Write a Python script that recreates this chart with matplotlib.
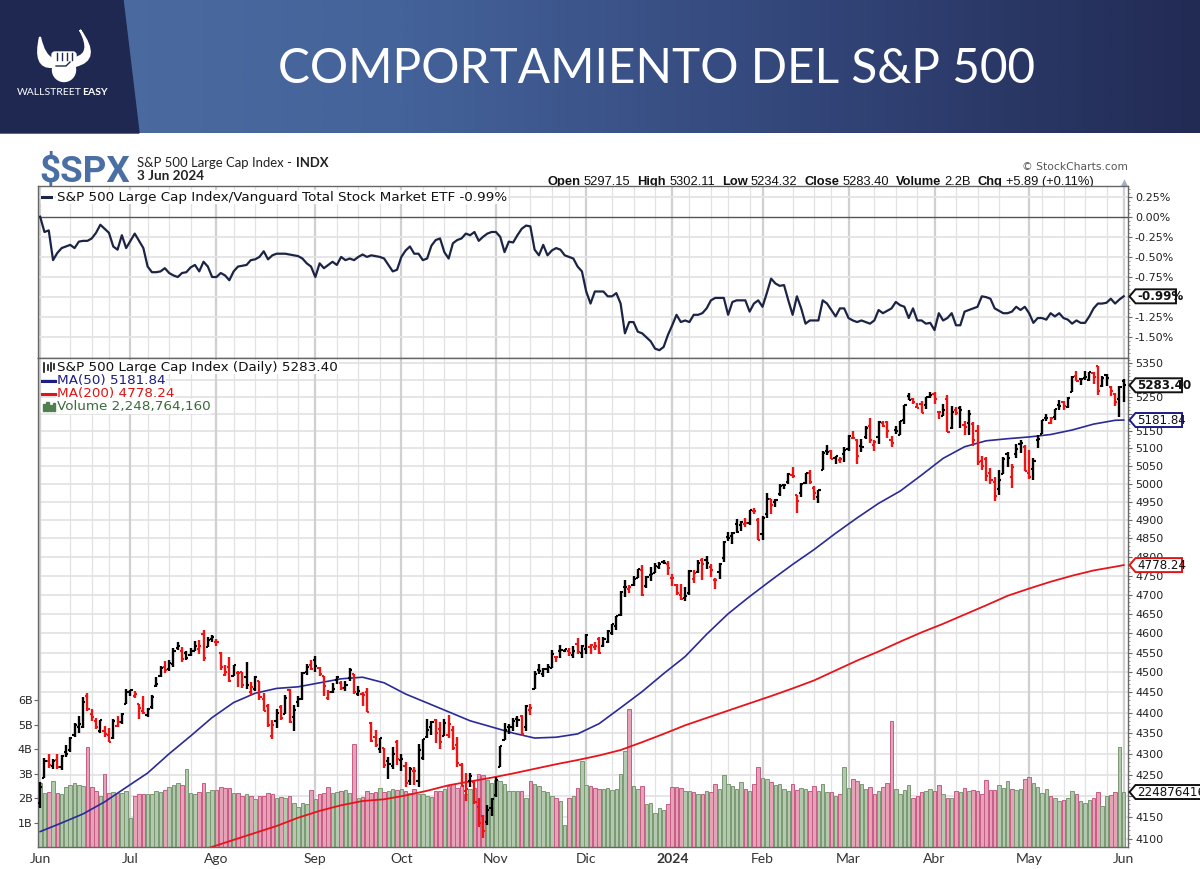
import numpy as np
import pandas as pd
import matplotlib
matplotlib.use("Agg")
import matplotlib.pyplot as plt
from matplotlib.patches import Polygon, PathPatch, Circle, FancyBboxPatch, Rectangle
from matplotlib.path import Path
from matplotlib.colors import LinearSegmentedColormap
from matplotlib.transforms import blended_transform_factory
from matplotlib.ticker import FixedLocator, FixedFormatter, NullFormatter

# ---------------- data ----------------
holidays = ["2023-06-19", "2023-07-04", "2023-09-04", "2023-11-23", "2023-12-25",
            "2024-01-01", "2024-01-15", "2024-02-19", "2024-03-29", "2024-05-27"]
month_labels = ["Jun", "Jul", "Ago", "Sep", "Oct", "Nov", "Dic", "2024", "Feb", "Mar", "Abr", "May", "Jun"]

opens = [
    4183,4241,4282,4271,4285,4268,4304,4308,4345,4366,4366,4440,4396,4380,4355,4354,4345,4338,4367,4378,4422,
    4450,4442,4422,4404,4394,4415,4467,4491,4514,4508,4521,4563,4554,4550,4543,4555,4559,4598,4565,4585,
    4578,4550,4494,4514,4492,4498,4501,4488,4450,4458,4478,4433,4416,4344,4380,4415,4397,4455,4389,4426,4433,4500,4518,
    4531,4510,4490,4435,4452,4481,4473,4462,4487,4497,4445,4445,4452,4375,4341,4311,4313,4283,4270,4328,
    4284,4270,4234,4259,4234,4290,4340,4366,4381,4360,4343,4346,4357,4322,4274,4211,4235,4233,4175,4152,4140,4172,
    4201,4268,4334,4365,4366,4384,4391,4365,4407,4458,4505,4497,4509,4511,4538,4553,4555,4555,4545,4571,4548,
    4559,4564,4564,4586,4568,4576,4600,4618,4646,4721,4714,4725,4743,4765,4724,4753,4758,4773,4786,4782,
    4745,4726,4698,4690,4703,4742,4760,4792,4791,4773,4739,4760,4797,4853,4856,4888,4886,4888,4892,4925,4899,
    4862,4916,4957,4950,4973,4996,5004,5026,4968,4976,5003,5031,4989,4964,5039,5093,5093,5074,5067,5085,
    5098,5131,5124,5108,5132,5164,5111,5134,5174,5175,5123,5154,5140,5181,5253,5243,5220,5229,5226,5248,
    5258,5204,5194,5244,5158,5211,5217,5167,5172,5171,5150,5064,5069,5032,5005,4987,5028,5084,5019,5085,5114,5103,
    5030,5041,5123,5142,5187,5172,5190,5225,5233,5221,5264,5310,5303,5305,5298,5319,5340,5282,5315,5278,5259,5243,
    5297.15]
highs = [
    4232,4290,4299,4288,4299,4298,4322,4340,4375,4391,4439,4449,4408,4387,4382,4367,4363,4384,4391,4398,4458,
    4456,4454,4422,4440,4412,4443,4488,4517,4528,4532,4562,4578,4565,4555,4563,4580,4582,4607,4590,4595,
    4585,4551,4519,4540,4519,4503,4502,4527,4476,4490,4478,4449,4421,4382,4408,4419,4443,4458,4418,4440,4500,4521,4532,
    4541,4514,4490,4457,4474,4491,4479,4479,4511,4497,4467,4451,4462,4376,4357,4338,4313,4292,4317,4333,
    4300,4281,4268,4268,4324,4336,4385,4379,4385,4377,4384,4393,4367,4340,4277,4255,4254,4236,4195,4156,4178,4194,
    4245,4319,4374,4372,4386,4392,4393,4418,4421,4503,4521,4511,4521,4557,4542,4569,4560,4561,4568,4587,4570,
    4599,4572,4578,4591,4590,4609,4623,4643,4709,4738,4725,4749,4769,4779,4749,4772,4785,4786,4793,4788,
    4755,4729,4727,4721,4764,4765,4791,4798,4803,4782,4744,4785,4842,4868,4867,4903,4898,4906,4929,4932,4906,
    4911,4975,4958,4958,5000,5000,5030,5048,4970,5003,5032,5039,4993,4983,5094,5111,5097,5080,5077,5105,
    5140,5149,5127,5128,5165,5189,5125,5179,5180,5179,5137,5165,5180,5225,5262,5247,5230,5236,5249,5264,
    5264,5208,5228,5256,5222,5219,5224,5178,5211,5175,5168,5079,5077,5046,5019,5039,5077,5089,5057,5114,5124,5110,
    5096,5073,5139,5181,5200,5192,5215,5239,5237,5250,5311,5325,5306,5325,5324,5323,5342,5311,5316,5282,5260,5281,
    5302.11]
lows = [
    4171,4241,4267,4264,4263,4261,4292,4304,4341,4351,4362,4404,4380,4360,4351,4341,4328,4336,4364,4371,4422,
    4442,4436,4385,4397,4389,4408,4463,4489,4498,4504,4514,4557,4527,4532,4541,4553,4547,4528,4564,4578,
    4567,4505,4491,4475,4491,4464,4461,4458,4443,4453,4432,4403,4364,4335,4362,4382,4397,4375,4356,4415,4432,4493,4507,
    4501,4492,4442,4431,4448,4471,4457,4453,4478,4447,4442,4417,4402,4329,4317,4303,4265,4239,4264,4274,
    4260,4220,4226,4225,4220,4284,4339,4346,4325,4311,4342,4338,4309,4268,4223,4189,4220,4182,4128,4103,4133,4153,
    4197,4268,4334,4347,4355,4364,4343,4354,4394,4458,4495,4488,4499,4510,4526,4537,4552,4541,4537,4547,4537,
    4547,4546,4556,4546,4564,4574,4594,4608,4643,4694,4704,4724,4743,4697,4717,4737,4758,4768,4780,4751,
    4722,4700,4687,4683,4699,4730,4757,4739,4769,4747,4714,4740,4786,4844,4836,4865,4870,4881,4887,4916,4845,
    4847,4907,4918,4936,4965,4987,4999,5017,4920,4963,4999,4999,4955,4946,5039,5081,5069,5057,5058,5062,
    5094,5127,5056,5091,5128,5117,5092,5114,5163,5130,5104,5142,5138,5171,5240,5229,5216,5203,5214,5246,
    5229,5184,5194,5146,5157,5197,5160,5138,5138,5107,5053,5040,5007,5001,4953,4969,5028,5047,4990,5073,5088,5035,
    5013,5011,5101,5142,5178,5171,5181,5210,5211,5218,5263,5296,5284,5299,5297,5286,5256,5279,5282,5251,5222,5192,
    5234.32]
closes = [
    4221.02,4282.37,4273.79,4283.85,4267.52,4293.93,4298.86,4338.93,4369.01,4372.59,4425.84,4409.59,4388.71,4365.69,4381.89,4348.33,4328.82,4378.41,4376.86,4396.44,4450.38,
    4455.59,4446.82,4411.59,4398.95,4409.53,4439.26,4472.16,4510.04,4505.42,4522.79,4554.98,4565.72,4534.87,4536.34,4554.64,4567.46,4566.75,4537.41,4582.23,4588.96,
    4576.73,4513.39,4501.89,4478.03,4518.44,4499.38,4467.71,4468.83,4464.05,4489.72,4437.86,4404.33,4370.36,4369.71,4399.77,4387.55,4436.01,4376.31,4405.71,4433.31,4497.63,4514.87,4507.66,
    4515.77,4496.83,4465.48,4451.14,4457.49,4487.46,4461.90,4467.44,4505.10,4450.32,4453.53,4443.95,4402.20,4330.00,4320.06,4337.44,4273.53,4274.51,4299.70,4288.05,
    4288.39,4229.45,4263.75,4258.19,4308.50,4335.66,4358.24,4376.95,4349.61,4327.78,4373.63,4373.20,4314.60,4278.00,4224.16,4217.04,4247.68,4186.77,4137.23,4117.37,4166.82,4193.80,
    4237.86,4317.78,4358.34,4365.98,4378.38,4382.78,4347.35,4415.24,4411.55,4495.70,4502.88,4508.24,4514.02,4547.38,4538.19,4556.62,4559.34,4550.43,4554.89,4550.58,4567.80,
    4594.63,4569.78,4567.18,4549.34,4585.59,4604.37,4622.44,4643.70,4707.09,4719.55,4719.19,4740.56,4768.37,4698.35,4746.75,4754.63,4774.75,4781.58,4783.35,4769.83,
    4742.83,4704.81,4688.68,4697.24,4763.54,4756.50,4783.45,4780.24,4783.83,4765.98,4739.21,4780.94,4839.81,4850.43,4864.60,4868.55,4894.16,4890.97,4927.93,4924.97,4845.65,
    4906.19,4958.61,4942.81,4954.23,4995.06,4997.91,5026.61,5021.84,4953.17,5000.62,5029.73,5005.57,4975.51,4981.80,5087.03,5088.80,5069.53,5078.18,5069.76,5096.27,
    5137.08,5130.95,5078.65,5104.76,5157.36,5123.69,5117.94,5175.27,5165.31,5150.48,5117.09,5149.42,5178.51,5224.62,5241.53,5234.18,5218.19,5203.58,5248.49,5254.35,
    5243.77,5205.81,5211.49,5147.21,5204.34,5202.39,5209.91,5160.64,5199.06,5123.41,5061.82,5051.41,5022.21,5011.12,4967.23,5010.60,5070.55,5071.63,5048.42,5099.96,5116.17,5035.69,
    5018.39,5064.20,5127.79,5180.74,5187.70,5187.67,5214.08,5222.68,5221.42,5246.68,5308.15,5297.10,5303.27,5308.13,5321.41,5307.01,5267.84,5304.72,5306.04,5266.95,5235.48,5277.51,
    5283.40]
volume_b = [
    2.6,2.2,2.25,2.7,2.2,2.15,2.45,2.55,2.6,2.55,2.5,4.1,2.45,2.3,2.1,3.0,2.2,2.25,2.2,2.2,2.3,
    1.2,2.1,2.15,2.15,2.15,2.15,2.3,2.25,2.35,2.45,2.55,2.6,2.55,3.2,2.2,2.15,2.25,2.6,2.25,2.35,
    2.35,2.45,2.4,2.4,2.2,2.2,2.1,2.15,2.1,1.95,2.1,2.1,2.2,2.15,2.0,2.05,2.0,2.1,1.8,1.65,1.8,1.75,2.35,
    1.95,2.15,2.2,2.45,2.2,2.25,2.3,2.35,2.2,4.2,2.0,2.05,2.3,2.2,2.25,2.4,2.23,2.27,2.36,2.32,
    2.36,2.30,2.19,2.36,2.16,2.16,2.09,2.05,2.30,2.30,2.36,2.50,2.57,2.43,2.50,2.16,2.36,2.43,2.98,2.95,2.73,2.60,
    2.73,2.70,2.57,2.30,2.30,2.30,2.30,2.02,2.68,2.57,2.50,2.30,2.23,2.09,1.99,1.89,0.90,2.02,2.09,2.43,3.50,
    2.53,2.50,2.43,2.36,2.36,2.43,2.32,2.36,3.00,3.93,5.64,2.50,2.36,2.50,1.75,1.78,1.41,1.61,1.50,1.75,
    2.46,2.46,2.43,2.27,2.30,2.23,2.16,2.16,2.30,2.23,2.57,2.36,2.95,2.57,2.50,2.36,2.64,2.36,2.30,2.57,3.28,
    2.84,2.77,2.64,2.55,2.57,2.36,2.27,2.57,2.34,2.43,2.36,2.30,2.50,2.30,2.57,2.23,2.23,2.09,2.16,3.28,
    2.43,2.77,2.68,2.57,2.36,2.46,2.16,2.27,2.46,2.60,5.16,2.36,2.16,2.32,2.54,1.99,2.09,2.23,2.30,2.36,
    2.27,2.54,2.16,1.99,2.02,2.27,2.23,2.43,2.30,2.32,2.27,2.16,2.73,2.32,2.32,2.54,2.43,2.68,2.36,2.32,2.36,2.77,
    2.87,2.60,2.46,2.19,2.36,2.09,1.99,1.89,1.91,2.02,2.27,2.16,1.89,1.78,1.91,2.02,2.23,1.68,2.09,2.13,2.23,4.07,
    2.25]
ratio_pct = [
    0.00,-0.19,-0.17,-0.54,-0.45,-0.39,-0.37,-0.35,-0.39,-0.31,
    -0.30,-0.30,-0.27,-0.20,-0.10,-0.15,-0.20,-0.37,-0.41,-0.23,
    -0.39,-0.30,-0.21,-0.30,-0.39,-0.62,-0.69,-0.69,-0.68,-0.64,
    -0.70,-0.73,-0.75,-0.70,-0.69,-0.63,-0.60,-0.68,-0.56,-0.62,
    -0.75,-0.75,-0.70,-0.73,-0.79,-0.68,-0.62,-0.61,-0.60,-0.54,
    -0.53,-0.50,-0.43,-0.53,-0.48,-0.46,-0.46,-0.46,-0.47,-0.48,
    -0.49,-0.52,-0.58,-0.62,-0.75,-0.58,-0.64,-0.60,-0.56,-0.60,
    -0.50,-0.54,-0.52,-0.54,-0.50,-0.47,-0.50,-0.48,-0.49,-0.50,
    -0.52,-0.60,-0.68,-0.66,-0.50,-0.42,-0.37,-0.46,-0.46,-0.54,
    -0.52,-0.36,-0.29,-0.27,-0.44,-0.52,-0.33,-0.29,-0.27,-0.21,
    -0.23,-0.19,-0.30,-0.25,-0.21,-0.19,-0.19,-0.25,-0.44,-0.31,
    -0.32,-0.23,-0.15,-0.11,-0.12,-0.41,-0.48,-0.35,-0.48,-0.42,
    -0.39,-0.41,-0.48,-0.50,-0.52,-0.62,-0.68,-0.93,-1.08,-0.93,
    -0.93,-0.93,-0.99,-0.99,-0.95,-1.08,-1.45,-1.31,-1.31,-1.43,
    -1.45,-1.50,-1.55,-1.64,-1.66,-1.62,-1.47,-1.35,-1.22,-1.31,
    -1.29,-1.31,-1.22,-1.22,-1.20,-1.14,-1.04,-1.01,-1.01,-1.01,
    -1.22,-1.06,-1.04,-1.04,-1.04,-1.18,-1.08,-1.04,-1.12,-0.95,
    -0.77,-0.83,-0.86,-0.85,-1.04,-1.22,-0.99,-1.14,-1.33,-1.29,
    -1.29,-1.29,-1.04,-1.08,-1.16,-1.24,-1.14,-1.14,-1.26,-1.29,
    -1.31,-1.29,-1.31,-1.33,-1.29,-1.16,-1.20,-1.17,-1.14,-1.06,
    -1.10,-1.12,-1.26,-1.14,-1.29,-1.29,-1.33,-1.32,-1.41,-1.20,
    -1.29,-1.26,-1.20,-1.35,-1.35,-1.18,-1.16,-1.14,-1.12,-0.99,
    -1.00,-1.02,-1.14,-1.17,-1.20,-1.20,-1.18,-1.12,-1.16,-1.12,
    -1.20,-1.32,-1.26,-1.26,-1.28,-1.20,-1.24,-1.20,-1.26,-1.28,
    -1.33,-1.29,-1.32,-1.32,-1.24,-1.14,-1.08,-1.08,-1.07,-1.02,
    -1.08,-1.03,-0.99]
ma50_idx = [0,5,10,15,20,25,30,35,40,45,50,55,60,65,70,75,80,85,90,95,100,105,110,115,120,125,
            130,135,140,145,150,155,160,165,170,175,180,185,190,195,200,205,210,215,220,225,230,235,240,245,250,252]
ma50_val = [4117,4137,4158,4186,4220,4254,4300,4343,4388,4425,4448,4460,4464,4474,4484,4488,4474,4446,4424,4402,4380,4365,
            4350,4338,4340,4348,4373,4412,4452,4497,4540,4597,4650,4695,4738,4780,4820,4864,4906,4946,4980,5025,5072,
            5105,5122,5128,5133,5140,5153,5170,5181,5181.84]
ma200_idx = [35,40,45,50,55,60,65,70,75,80,85,90,95,100,105,110,115,120,125,130,135,140,145,150,155,160,165,170,175,
             180,185,190,195,200,205,210,215,220,225,230,235,240,245,250,252]
ma200_val = [4068,4082,4098,4114,4130,4149,4165,4178,4188,4192,4201,4212,4225,4234,4243,4253,4264,4275,4285,4296,4309,
             4328,4348,4369,4387,4405,4423,4441,4460,4480,4505,4530,4553,4578,4602,4624,4648,4672,4697,4716,4734,4750,
             4764,4774,4778.24]
price_ticks = list(range(4100, 5351, 50))
hidden_price_labels = [4200, 5200, 5300]      # covered by the value tags
ratio_ticks = [0.25, 0.0, -0.25, -0.5, -0.75, -1.0, -1.25, -1.5]
hidden_ratio_labels = [-1.0]
vol_ticks = [1, 2, 3, 4, 5, 6]
last_close, last_ma50, last_ma200 = 5283.40, 5181.84, 4778.24
last_vol, last_ratio = 2248764160, -0.99

# ---------------- derived ----------------
dates = pd.bdate_range("2023-06-01", "2024-06-03")
dates = dates[~dates.isin(pd.to_datetime(holidays))]
n = len(closes)
x = np.arange(n)
o = np.array(opens, float); h = np.array(highs, float); l = np.array(lows, float); c = np.array(closes, float)
vol = np.array(volume_b) * 1e9
up = np.r_[True, c[1:] >= c[:-1]]

month_idx = [i for i in range(n) if i == 0 or dates[i].month != dates[i - 1].month]
week_idx = [i for i in range(1, n) if dates[i].isocalendar()[1] != dates[i - 1].isocalendar()[1]]
week_idx = [i for i in week_idx if min(abs(i - m) for m in month_idx) > 2]

# ---------------- figure ----------------
W, H = 1200, 869
fig = plt.figure(figsize=(W / 100, H / 100), dpi=100)
fig.patch.set_facecolor("white")
R = fig.canvas.get_renderer()

bg = fig.add_axes([0, 0, 1, 1], zorder=0)
cmap = LinearSegmentedColormap.from_list("ban", ["#4d6da2", "#44639a", "#33467a", "#222b54"])
bg.imshow(np.linspace(0, 1, 512)[None, :], extent=[0, W, 133, 0], aspect="auto", cmap=cmap, zorder=0)
bg.set_xlim(0, W); bg.set_ylim(H, 0); bg.axis("off")
bg.add_patch(Polygon([[0, 0], [123, 0], [139, 133], [0, 133]], closed=True, color="#1e2850", zorder=1))

# logo (bull horns + fist)
lh = Path([(52, 67), (33, 68), (40, 37), (44, 56), (53, 59)],
          [Path.MOVETO, Path.CURVE3, Path.CURVE3, Path.CURVE3, Path.CURVE3])
rh = Path([(75, 66), (102, 60), (80, 30), (93, 54), (75, 58)],
          [Path.MOVETO, Path.CURVE3, Path.CURVE3, Path.CURVE3, Path.CURVE3])
bg.add_patch(PathPatch(lh, facecolor="white", edgecolor="white", lw=1.5, zorder=2))
bg.add_patch(PathPatch(rh, facecolor="white", edgecolor="white", lw=1.5, zorder=2))
bg.add_patch(Circle((64, 70), 11.5, color="white", zorder=2))
bg.add_patch(FancyBboxPatch((52, 52), 24, 16, boxstyle="round,pad=0,rounding_size=3", color="white", zorder=2))
for fxp in [57, 62, 67, 72]:
    bg.plot([fxp, fxp], [52.5, 60], color="#1e2850", lw=1.0, zorder=3)
bg.plot([56, 66, 70], [66, 66, 62], color="#1e2850", lw=1.0, zorder=3)

def seq(ax, x0, y, parts, fs, family, color="black", zorder=5, va="baseline"):
    xx = x0
    objs = []
    for s, wgt, gap in parts:
        t = ax.text(xx, y, s, fontsize=fs, weight=wgt, color=color, family=family, va=va, ha="left", zorder=zorder)
        xx += t.get_window_extent(R).width + gap
        objs.append(t)
    return xx, objs

def seq_fit(ax, x0, y, parts, fs0, family, target_w, align="left", **kw):
    end, objs = seq(ax, 0, y, parts, fs0, family, **kw)
    for t in objs:
        t.remove()
    fs = fs0 * target_w / end
    start = x0 if align == "left" else x0 - target_w
    return seq(ax, start, y, parts, fs, family, **kw)

def fit_text(ax, x0, y, s, target_w, fs0=10, **kw):
    t = ax.text(x0, y, s, fontsize=fs0, **kw)
    w = t.get_window_extent(R).width
    t.set_fontsize(fs0 * target_w / w)
    return t

seq_fit(bg, 17, 95, [("WALLSTREET", "normal", 0), ("EASY", "bold", 0)], 8, ["Lato", "DejaVu Sans"], 90, color="white")
fit_text(bg, 278, 83, "COMPORTAMIENTO DEL S&P 500", 759, fs0=34, color="white",
         family=["Lato", "DejaVu Sans"], weight="normal", va="baseline", zorder=5)

fit_text(bg, 39, 182, "$SPX", 91, fs0=28, color="#4a6fa5", family=["Roboto", "DejaVu Sans"], weight="bold", va="baseline")
seq_fit(bg, 137, 167, [("S&P 500 Large Cap Index -", "normal", 4), ("INDX", "bold", 0)], 10,
        ["Lato", "DejaVu Sans"], 191, color="#222")
fit_text(bg, 137, 179.5, "3 Jun 2024", 67, fs0=10, color="#222", family=["Lato", "DejaVu Sans"], weight="bold", va="baseline")
fit_text(bg, 1022, 170, "© StockCharts.com", 106, fs0=9, color="#555", family=["DejaVu Sans"], va="baseline")
info = [("Open", "bold", 3), ("5297.15", "normal", 7), ("High", "bold", 3), ("5302.11", "normal", 7),
        ("Low", "bold", 3), ("5234.32", "normal", 7), ("Close", "bold", 3), ("5283.40", "normal", 7),
        ("Volume", "bold", 3), ("2.2B", "normal", 7), ("Chg", "bold", 3), ("+5.89 (+0.11%)", "normal", 18)]
seq_fit(bg, 1115, 185, info, 9.5, ["Liberation Sans", "DejaVu Sans"], 567, align="right", color="#111")
bg.text(1124, 184.5, "▲", fontsize=6.5, color="#9fb0c2", family="DejaVu Sans", ha="center", va="baseline")

# ---------------- chart axes ----------------
L, Wd = 38 / W, 1090 / W
ax_r = fig.add_axes([L, 1 - 358 / H, Wd, 172 / H], zorder=2)
ax_v = fig.add_axes([L, 1 - 847 / H, Wd, 489 / H], zorder=2)
ax_p = fig.add_axes([L, 1 - 847 / H, Wd, 489 / H], zorder=3)
ax_p.patch.set_alpha(0)
for ax in (ax_r, ax_v, ax_p):
    ax.set_xlim(-0.5, 253.0)

ax_p.set_yscale("log")
ax_p.set_ylim(4081.7, 5364.6)
ax_v.set_ylim(0, 20.0e9)
ax_r.set_ylim(-1.757, 0.382)

grid_c, wk_c, mo_c = "#e4e4e4", "#e2e2e2", "#d0d0d0"
bt = blended_transform_factory(ax_v.transAxes, ax_p.transData)
for p in price_ticks:
    ax_v.plot([0, 1], [p, p], transform=bt, color=grid_c, lw=1.3, zorder=0)
for axx in (ax_v, ax_r):
    for i in week_idx:
        axx.axvline(i, color=wk_c, lw=0.9, zorder=0)
    for i in month_idx:
        axx.axvline(i, color=mo_c, lw=1.6, zorder=0)
for v in ratio_ticks:
    if v != 0:
        ax_r.axhline(v, color=grid_c, lw=1.3, zorder=0)
ax_r.axhline(0, color="#555555", lw=1.0, zorder=1)

# volume
g_fill, g_edge, p_fill, p_edge = "#b3c9ad", "#7b9873", "#e6a2b6", "#c65c84"
ax_v.bar(x, vol, width=0.82, color=np.where(up, g_fill, p_fill), edgecolor=np.where(up, g_edge, p_edge),
         linewidth=0.7, zorder=2)

# moving averages
ax_p.plot(ma200_idx, ma200_val, color="#e8141c", lw=1.3, zorder=2)
ax_p.plot(ma50_idx, ma50_val, color="#2a2a98", lw=1.2, zorder=2)

# OHLC bars
cols = np.where(up, "#000000", "#ee1414")
ax_p.vlines(x, l, h, colors=cols, lw=1.7, zorder=3)
ax_p.hlines(o, x - 0.5, x, colors=cols, lw=1.5, zorder=3)
ax_p.hlines(c, x, x + 0.5, colors=cols, lw=1.5, zorder=3)

# ratio line
ax_r.plot(x, ratio_pct, color="#1b2444", lw=1.6, zorder=3)

# ---- axes styling ----
for ax in (ax_r, ax_p):
    for s in ax.spines.values():
        s.set_color("#666666"); s.set_linewidth(1.0)
for s in ax_v.spines.values():
    s.set_visible(False)

ax_p.yaxis.tick_right()
ax_p.yaxis.set_major_locator(FixedLocator(price_ticks))
ax_p.yaxis.set_major_formatter(FixedFormatter(["" if p in hidden_price_labels else str(p) for p in price_ticks]))
ax_p.yaxis.set_minor_locator(FixedLocator([p for p in range(4090, 5361, 10) if p % 50]))
ax_p.yaxis.set_minor_formatter(NullFormatter())
ax_p.tick_params(axis="y", which="major", length=3, width=0.8, colors="#666", labelcolor="#222", labelsize=8, pad=2)
ax_p.tick_params(axis="y", which="minor", length=1.5, width=0.6, colors="#888")
ax_p.set_xticks(month_idx)
ax_p.set_xticklabels(month_labels)
ax_p.tick_params(axis="x", length=0, pad=4, labelsize=10, labelcolor="#333")
for k, tl in enumerate(ax_p.get_xticklabels()):
    tl.set_family(["Lato", "DejaVu Sans"])
    if month_labels[k] == "2024":
        tl.set_weight("bold")

ax_v.yaxis.tick_left()
ax_v.set_yticks([v * 1e9 for v in vol_ticks])
ax_v.set_yticklabels([f"{v}B" for v in vol_ticks])
ax_v.tick_params(axis="y", length=3, width=0.8, colors="#666", labelcolor="#222", labelsize=8, pad=1)
ax_v.set_xticks([])

ax_r.yaxis.tick_right()
ax_r.yaxis.set_major_locator(FixedLocator(ratio_ticks))
ax_r.yaxis.set_major_formatter(FixedFormatter(["" if v in hidden_ratio_labels else f"{v:.2f}%" for v in ratio_ticks]))
ax_r.yaxis.set_minor_locator(FixedLocator([v / 100 for v in range(-175, 38, 5) if v % 25]))
ax_r.tick_params(axis="y", which="major", length=3, width=0.8, colors="#666", labelcolor="#222", labelsize=8, pad=2)
ax_r.tick_params(axis="y", which="minor", length=1.5, width=0.6, colors="#888")
ax_r.set_xticks([])

# ---------------- overlay: legends & callouts ----------------
ov = fig.add_axes([0, 0, 1, 1], zorder=10)
ov.set_xlim(0, W); ov.set_ylim(H, 0); ov.axis("off")

def y_img(ax, val):
    return H - ax.transData.transform((0, val))[1]

wb = dict(facecolor="white", edgecolor="none", pad=0.6)
t1 = fit_text(ov, 57, 367, f"S&P 500 Large Cap Index (Daily) {last_close:.2f}", 281, fs0=9,
              family="DejaVu Sans", color="#111", va="center", bbox=wb)
lfs = t1.get_fontsize()
ov.text(57, 380.5, f"MA(50) {last_ma50:.2f}", fontsize=lfs, family="DejaVu Sans", color="#1c1c86", va="center", bbox=wb)
ov.text(57, 393.5, f"MA(200) {last_ma200:.2f}", fontsize=lfs, family="DejaVu Sans", color="#e01414", va="center", bbox=wb)
ov.text(57, 406.5, f"Volume {last_vol:,}", fontsize=lfs, family="DejaVu Sans", color="#3b6b3b", va="center", bbox=wb)
ov.add_patch(Rectangle((41, 362), 15, 11, color="white", zorder=3))
ov.add_patch(Rectangle((41, 401), 15, 11, color="white", zorder=3))
for xx, y0, y1 in [(44, 363, 372), (47.5, 365, 370), (51, 362.5, 371), (54, 364, 369)]:
    ov.plot([xx, xx], [y0, y1], color="#111", lw=1.2, zorder=4)
ov.plot([42, 55], [380.5, 380.5], color="#1c1c86", lw=2.2, zorder=4)
ov.plot([42, 55], [393.5, 393.5], color="#e01414", lw=2.2, zorder=4)
for xx, hh in [(44, 7), (47.5, 9), (51, 6), (54, 8)]:
    ov.add_patch(Rectangle((xx - 1.3, 411 - hh), 2.6, hh, color="#4f7f4f", zorder=4))

ov.add_patch(Rectangle((41, 190), 12, 13, color="white", zorder=3))
ov.plot([42, 51], [197, 197], color="#1b2444", lw=2.2, zorder=4)
ov.text(57, 197, "S&P 500 Large Cap Index/Vanguard Total Stock Market ETF -0.99%", fontsize=lfs,
        family="DejaVu Sans", color="#111", va="center", bbox=wb)

def tag(y, text, edge, bold=False, x0=1129.5, x1=1182, hh=14, tcolor="#111"):
    pts = [(x0, y), (x0 + 6, y - hh / 2), (x1, y - hh / 2), (x1, y + hh / 2), (x0 + 6, y + hh / 2)]
    ov.add_patch(Polygon(pts, closed=True, facecolor="white", edgecolor=edge, lw=1.4, zorder=5))
    ov.text(x0 + 7.5, y + 0.5, text, fontsize=8.6, weight="bold" if bold else "normal", color=tcolor,
            family="DejaVu Sans", va="center", ha="left", zorder=6)

tag(y_img(ax_p, last_close), f"{last_close:.2f}", "#111111", bold=True)
tag(y_img(ax_p, last_ma50), f"{last_ma50:.2f}", "#1c1c86")
tag(y_img(ax_p, last_ma200), f"{last_ma200:.2f}", "#e01414")
tag(y_img(ax_v, last_vol), f"{last_vol}", "#111111", x1=1215)
tag(y_img(ax_r, last_ratio), f"{last_ratio:.2f}%", "#111111", bold=True, x1=1176)

fig.savefig("out.png", dpi=100)
